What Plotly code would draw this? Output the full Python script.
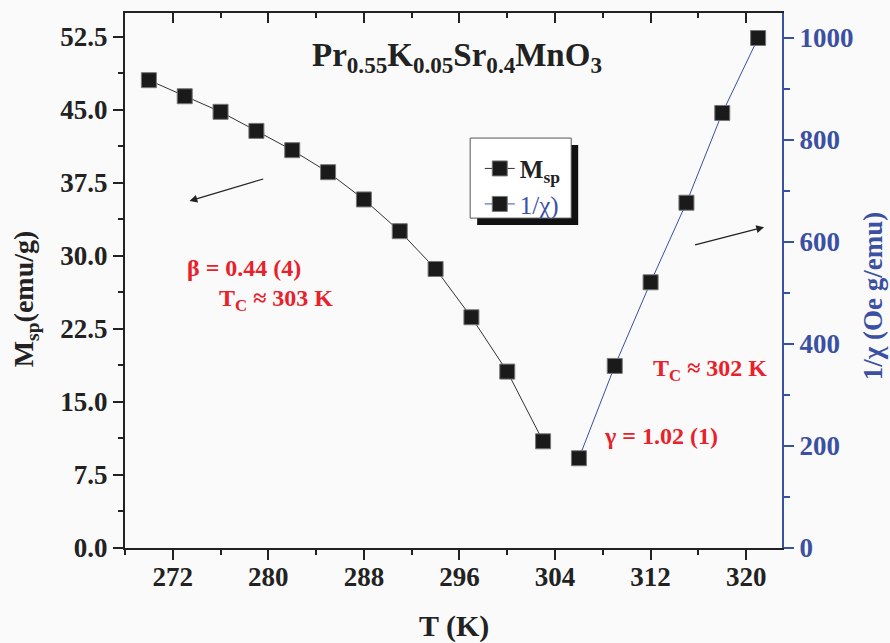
import plotly.graph_objects as go

# ---- data ----
T_M = [270, 273, 276, 279, 282, 285, 288, 291, 294, 297, 300, 303]
M_sp = [48.05, 46.40, 44.80, 42.84, 40.86, 38.60, 35.80, 32.54, 28.66, 23.70, 18.12, 10.96]
T_chi = [306, 309, 312, 315, 318, 321]
inv_chi = [176, 357, 521, 677, 853, 1000]

x_ticks = [272, 280, 288, 296, 304, 312, 320]
y_left_ticks = [0, 7.5, 15, 22.5, 30, 37.5, 45, 52.5]
y_right_ticks = [0, 200, 400, 600, 800, 1000]

BLUE = "#3a50a2"
RED = "#e8212a"
DARK = "#222222"
FONT = "Liberation Serif"
BG = "#fafafa"

fig = go.Figure()
fig.add_trace(go.Scatter(
    x=T_M, y=M_sp, mode="lines+markers", name="<b>M<sub>sp</sub></b>",
    line=dict(color="#333333", width=1),
    marker=dict(symbol="square", size=15, color="#1a1a1a", line=dict(color="#777777", width=1)),
    yaxis="y"))
fig.add_trace(go.Scatter(
    x=T_chi, y=inv_chi, mode="lines+markers",
    name="<span style='color:%s'>1/χ)</span>" % BLUE,
    line=dict(color=BLUE, width=1),
    marker=dict(symbol="square", size=15, color="#1a1a1a", line=dict(color="#777777", width=1)),
    yaxis="y2"))
# empty trace to activate the top (mirrored) axis
fig.add_trace(go.Scatter(x=[], y=[], xaxis="x2", yaxis="y", showlegend=False, hoverinfo="skip"))

fig.update_layout(
    width=890, height=643,
    margin=dict(l=125, r=108, t=13, b=95, autoexpand=False),
    paper_bgcolor=BG, plot_bgcolor=BG,
    showlegend=True,
    legend=dict(x=0.54, y=0.752, xanchor="left", yanchor="top",
                bgcolor="rgba(0,0,0,0)", borderwidth=0,
                font=dict(family=FONT, size=25, color=DARK),
                itemwidth=30, tracegroupgap=2),
    xaxis=dict(range=[268, 323], tickvals=x_ticks, ticks="outside", ticklen=10, tickwidth=2,
               tickcolor=DARK, showline=True, linewidth=2, linecolor=DARK, showgrid=False,
               zeroline=False, automargin=False, ticklabelstandoff=-6,
               tickfont=dict(family=FONT, size=27, color=DARK, weight="bold"),
               minor=dict(dtick=4, tick0=272, ticklen=5, tickwidth=2, tickcolor=DARK, ticks="outside")),
    xaxis2=dict(range=[268, 323], overlaying="x", side="top", tickvals=x_ticks, ticks="inside",
                ticklen=10, tickwidth=2, tickcolor=DARK, showline=True, linewidth=2, linecolor=DARK,
                showticklabels=False, showgrid=False, zeroline=False, automargin=False,
                minor=dict(dtick=4, tick0=272, ticklen=5, tickwidth=2, tickcolor=DARK, ticks="inside")),
    yaxis=dict(range=[0, 54.95], tickvals=y_left_ticks, tickformat=".1f", ticks="outside", ticklen=10,
               tickwidth=2, tickcolor=DARK, showline=True, linewidth=2, linecolor=DARK, showgrid=False,
               zeroline=False, automargin=False,
               tickfont=dict(family=FONT, size=27, color=DARK, weight="bold"),
               minor=dict(dtick=3.75, tick0=0, ticklen=5, tickwidth=2, tickcolor=DARK, ticks="outside")),
    yaxis2=dict(range=[0, 1049], overlaying="y", side="right", tickvals=y_right_ticks, ticks="outside",
                ticklen=10, tickwidth=2, tickcolor=BLUE, showline=True, linewidth=2, linecolor=BLUE,
                showgrid=False, zeroline=False, automargin=False,
                tickfont=dict(family=FONT, size=27, color=BLUE, weight="bold"),
                minor=dict(dtick=100, tick0=0, ticklen=6, tickwidth=2, tickcolor=BLUE, ticks="outside")),
)

# axis titles (placed as annotations)
fig.add_annotation(x=-0.152, y=0.465, xref="paper", yref="paper", textangle=-90, showarrow=False,
                   text="<b>M<sub>sp</sub>(emu/g)</b>", font=dict(family=FONT, size=28, color=DARK),
                   xanchor="center", yanchor="middle")
fig.add_annotation(x=1.138, y=0.47, xref="paper", yref="paper", textangle=-90, showarrow=False,
                   text="<b>1/χ (Oe g/emu)</b>", font=dict(family=FONT, size=27, color=BLUE),
                   xanchor="center", yanchor="middle")
fig.add_annotation(x=0.5, y=(547.7 - 626) / 534.7, xref="paper", yref="paper", showarrow=False,
                   text="<b>T (K)</b>", font=dict(family=FONT, size=30, color=DARK),
                   xanchor="center", yanchor="middle")

# legend box with drop shadow
fig.add_shape(type="rect", xref="paper", yref="paper", layer="above",
              x0=(477 - 125) / 656.7, x1=(578 - 125) / 656.7,
              y0=(547.7 - 225) / 534.7, y1=(547.7 - 145) / 534.7,
              fillcolor="#111111", line=dict(width=0))
fig.add_shape(type="rect", xref="paper", yref="paper", layer="above",
              x0=(470 - 125) / 656.7, x1=(571 - 125) / 656.7,
              y0=(547.7 - 218) / 534.7, y1=(547.7 - 138) / 534.7,
              fillcolor="#ffffff", line=dict(color="#555555", width=1))

# arrows
fig.add_annotation(x=273.4, y=35.65, ax=279.7, ay=37.95, xref="x", yref="y", axref="x", ayref="y",
                   text="", showarrow=True, arrowhead=2, arrowsize=1.3, arrowwidth=1.2, arrowcolor="#222")
fig.add_annotation(x=321.5, y=32.95, ax=315.6, ay=31.1, xref="x", yref="y", axref="x", ayref="y",
                   text="", showarrow=True, arrowhead=2, arrowsize=1.3, arrowwidth=1.2, arrowcolor="#222")

redfont = dict(family=FONT, size=24, color=RED)
fig.add_annotation(x=278.0, y=28.74, xref="x", yref="y", text="<b>β = 0.44 (4)</b>", showarrow=False, font=redfont)
fig.add_annotation(x=280.6, y=25.5, xref="x", yref="y", text="<b>T<sub>C</sub> ≈ 303 K</b>", showarrow=False, font=redfont)
fig.add_annotation(x=317.0, y=18.3, xref="x", yref="y", text="<b>T<sub>C</sub> ≈ 302 K</b>", showarrow=False, font=redfont)
fig.add_annotation(x=312.9, y=11.47, xref="x", yref="y", text="<b>γ = 1.02 (1)</b>", showarrow=False, font=redfont)

# compound title
fig.add_annotation(x=295.8, y=50.4, xref="x", yref="y",
                   text="<b>Pr<sub>0.55</sub>K<sub>0.05</sub>Sr<sub>0.4</sub>MnO<sub>3</sub></b>",
                   showarrow=False, font=dict(family=FONT, size=33, color=DARK))

fig.write_html("out.html")
